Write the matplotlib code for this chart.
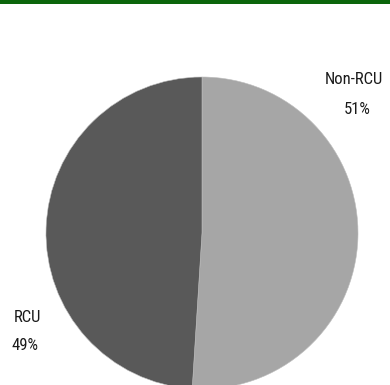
import matplotlib.pyplot as plt
from matplotlib.patches import Rectangle

labels = ["Non-RCU", "RCU"]
shares = [51, 49]
colors = ["#a6a6a6", "#595959"]

W, H = 390, 385
fig = plt.figure(figsize=(W / 100, H / 100), dpi=100)
ax = fig.add_axes([0, 0, 1, 1])
ax.set_aspect("equal")
ax.axis("off")

# green band along the top edge
fig.patches.append(Rectangle((0, 1 - 4 / H), 1, 4 / H, transform=fig.transFigure,
                             facecolor="#0b650b", edgecolor="none"))

ax.pie(shares, colors=colors, startangle=90, counterclock=False,
       center=(202, H - 233), radius=156,
       wedgeprops=dict(edgecolor="#bdbdbd", linewidth=0.4))
ax.set_xlim(0, W)
ax.set_ylim(0, H)

font = dict(family=["Roboto Condensed", "DejaVu Sans"], fontsize=12, color="#1a1a1a",
            ha="center", va="center")
ax.text(354, H - 80, labels[0], **font)
ax.text(357, H - 110, f"{shares[0]}%", **font)
ax.text(27, H - 317, labels[1], **font)
ax.text(25, H - 346, f"{shares[1]}%", **font)

fig.savefig("out.png", dpi=100)
